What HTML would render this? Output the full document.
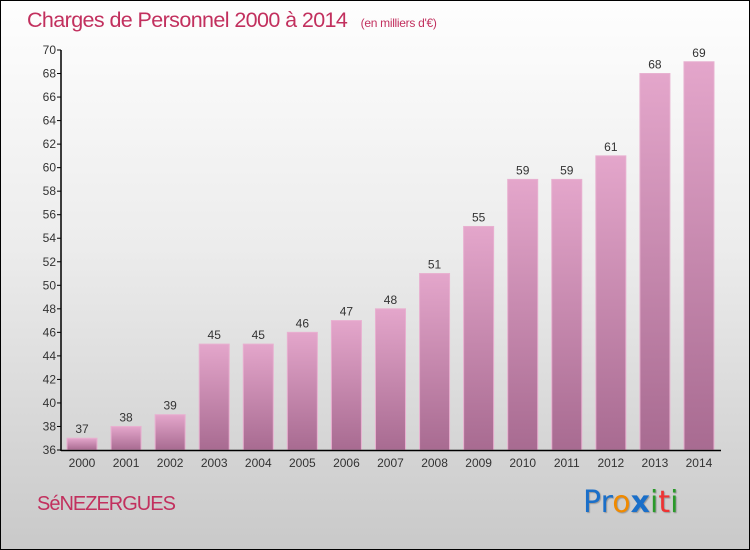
<!DOCTYPE html>
<html><head><meta charset="utf-8"><style>
body{margin:0;width:750px;height:550px;overflow:hidden}
#c{position:relative;width:748px;height:548px;border:1px solid #000;background:linear-gradient(#fefefe 0%,#ececec 45%,#c9c9c9 100%);font-family:"Liberation Sans",sans-serif}
</style></head><body>
<div id="c">
<div style="position:absolute;left:26px;top:7px;font-size:21.5px;color:#c2305e;letter-spacing:-0.6px">Charges de Personnel 2000 à 2014 <span style="font-size:12px;margin-left:8px;letter-spacing:-0.3px">(en milliers d'€)</span></div>
<svg id="s" width="750" height="550" style="position:absolute;left:-1px;top:-1px">
<defs><linearGradient id="g" x1="0" y1="0" x2="0" y2="1"><stop offset="0" stop-color="#e4a6cb"/><stop offset="1" stop-color="#a86b91"/></linearGradient></defs>
</svg>
<div style="position:absolute;left:36px;top:492px;font-size:20px;color:#c2305e;letter-spacing:-1px">SéNEZERGUES</div>
<div style="position:absolute;left:582px;top:484px;font-size:30px;font-family:'DejaVu Sans',sans-serif;text-shadow:1px 1px 1px #999"><span style="color:#1a6fc9">Pr</span><span style="color:#f08a00">o</span><span style="color:#1a6fc9;font-weight:bold">x</span><span style="color:#2a9a2a">i</span><span style="color:#e33">t</span><span style="color:#2a9a2a">i</span></div>
</div>
<script>
const years=["2000","2001","2002","2003","2004","2005","2006","2007","2008","2009","2010","2011","2012","2013","2014"];
const values=[37,38,39,45,45,46,47,48,51,55,59,59,61,68,69];
const yTicks=[36,38,40,42,44,46,48,50,52,54,56,58,60,62,64,66,68,70];
const NS="http://www.w3.org/2000/svg",s=document.getElementById('s');
const y=v=>450-(v-36)*400/34, x=i=>82+i*44.07;
function mk(t,a){const e=document.createElementNS(NS,t);for(const k in a)e.setAttribute(k,a[k]);s.appendChild(e);return e;}
years.forEach((yr,i)=>{
 const r=mk('rect',{x:x(i)-15,y:y(values[i]),width:30,height:450-y(values[i]),fill:'url(#g)',stroke:'#e8b0d0','stroke-width':1});
 
 
 const t=mk('text',{x:x(i),y:y(values[i])-5,'text-anchor':'middle','font-size':12,fill:'#333'});t.textContent=values[i];
 
 
 const l=mk('text',{x:x(i),y:467,'text-anchor':'middle','font-size':12,fill:'#333'});l.textContent=yr;
 
 
});
yTicks.forEach(v=>{
 mk('line',{x1:57,x2:61,y1:y(v),y2:y(v),stroke:'#000'});
 const t=mk('text',{x:56,y:y(v)+4,'text-anchor':'end','font-size':12,fill:'#333'});t.textContent=v;
 
 
});
const ya=mk('line',{x1:61,x2:61,y1:y(70),y2:451,stroke:'#000','stroke-width':1.5});


const xa=mk('line',{x1:61,x2:721,y1:450.5,y2:450.5,stroke:'#000','stroke-width':1.5});


</script>
</body></html>
